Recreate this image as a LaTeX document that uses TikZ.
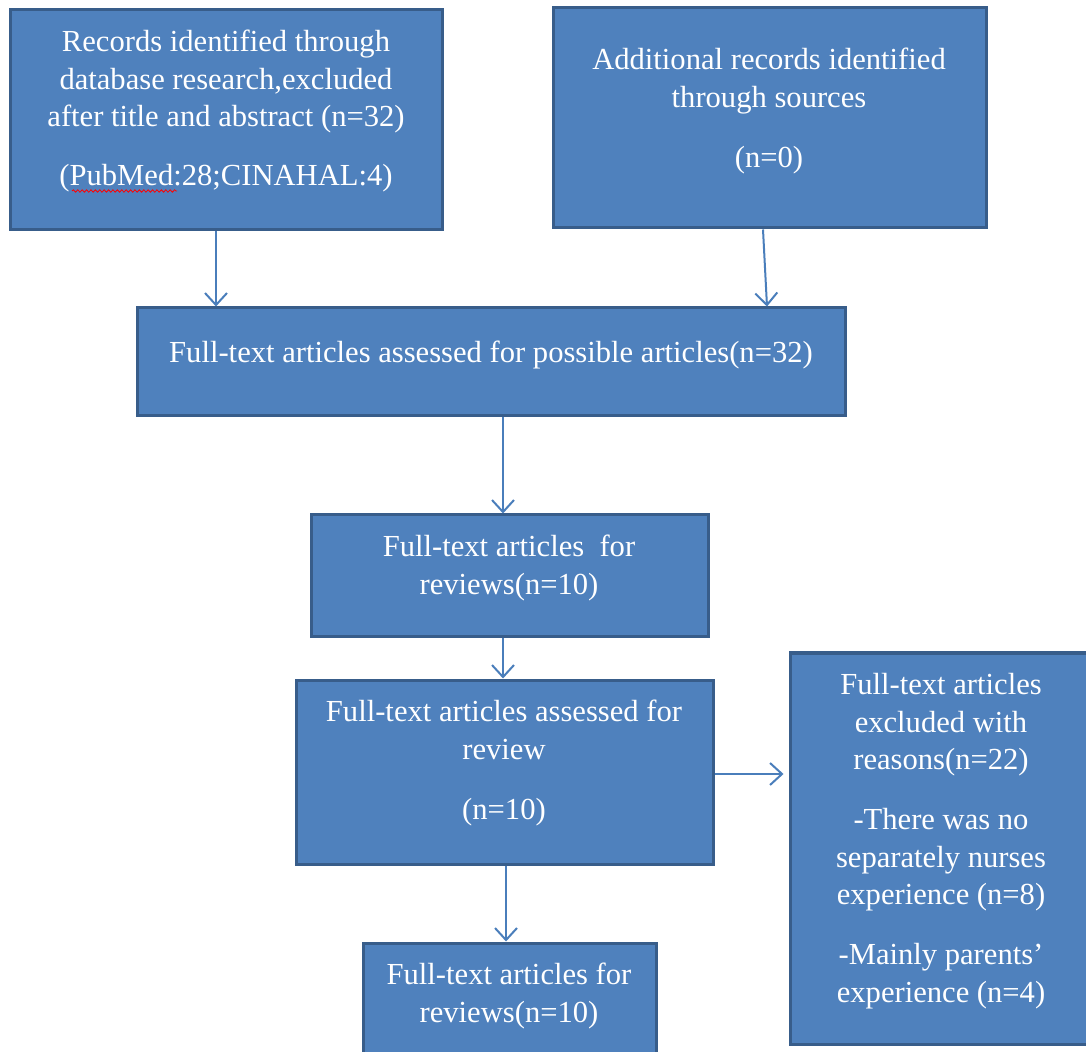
\documentclass[tikz,border=0pt]{standalone}
\usepackage{fontspec}
\setmainfont{Liberation Serif}
\usetikzlibrary{arrows.meta,calc,decorations.pathmorphing}
\definecolor{boxfill}{HTML}{4F81BD}
\definecolor{boxline}{HTML}{385D8A}
\definecolor{arrowcol}{HTML}{4A7EBB}
\begin{document}
\begin{tikzpicture}[x=0.5pt,y=-0.5pt,
  box/.style={draw=boxline, fill=boxfill, line width=1.5pt, inner sep=0pt},
  txt/.style={text=white, align=center, font=\fontsize{15.3pt}{18.75pt}\selectfont, inner sep=0pt},
  arr/.style={draw=arrowcol, line width=1pt, -{Straight Barb[length=6pt,width=11pt,line width=1pt]}},
  spell/.style={draw=red, line width=0.4pt, decorate, decoration={snake, amplitude=0.6pt, segment length=2.2pt}}]
\useasboundingbox (0,0) rectangle (1086,1052);
\clip (0,0) rectangle (1086,1052);
\fill[white] (0,0) rectangle (1086,1052);
% boxes
\node[box, minimum width=216pt, minimum height=110pt] (b1) at (226,120) {};
\node[box, minimum width=216.5pt, minimum height=110pt] (b2) at (769.5,118) {};
\node[box, minimum width=354pt, minimum height=54pt] (b3) at (491,362) {};
\node[box, minimum width=198.5pt, minimum height=61pt] (b4) at (509.5,576) {};
\node[box, minimum width=208.5pt, minimum height=92pt] (b5) at (504.5,772) {};
\node[box, minimum width=151pt, minimum height=195.5pt] (b6) at (941,848.5) {};
\node[box, minimum width=146.5pt, minimum height=63.5pt] (b7) at (509.5,1006.5) {};
% texts
\node[txt] (t1) at (226,111) {Records identified through\\database research,excluded\\after title and abstract (n=32)\\[10.5pt](PubMed:28;CINAHAL:4)};
\node[txt] (t2) at (769,111) {Additional records identified\\through sources\\[11.25pt](n=0)};
\node[txt] (t3) at (491,355) {Full-text articles assessed for possible articles(n=32)};
\node[txt] (t4) at (509,568) {Full-text articles \ for\\reviews(n=10)};
\node[txt] (t5) at (504,763) {Full-text articles assessed for\\review\\[11.25pt](n=10)};
\node[txt] (t6) at (941,841) {Full-text articles\\excluded with\\reasons(n=22)\\[11.25pt]-There was no\\separately nurses\\experience (n=8)\\[11.25pt]-Mainly parents’\\experience (n=4)};
\node[txt] (t7) at (509,996) {Full-text articles for\\reviews(n=10)};
% spell-check squiggle under "PubMed"
\coordinate (sq1) at (72,191);
\coordinate (sq2) at (177,191);
\draw[spell] (sq1) -- (sq2);
% arrows
\draw[arr] ([xshift=-5pt]b1.south) -- ([xshift=-5pt]b1.south |- b3.north);
\draw[arr] ([xshift=-3.25pt]b2.south) -- ($(b3.north)+(138pt,0)$);
\draw[arr] ([xshift=6pt]b3.south) -- ([xshift=6pt]b3.south |- b4.north);
\draw[arr] ([xshift=-3.25pt]b4.south) -- ([xshift=-3.25pt]b4.south |- b5.north);
\draw[arr] ([xshift=0.75pt]b5.south) -- ([xshift=0.75pt]b5.south |- b7.north);
\draw[arr, shorten >=2.5pt] ([yshift=-1pt]b5.east) -- ([yshift=-1pt]b5.east -| b6.west);
\end{tikzpicture}
\end{document}
